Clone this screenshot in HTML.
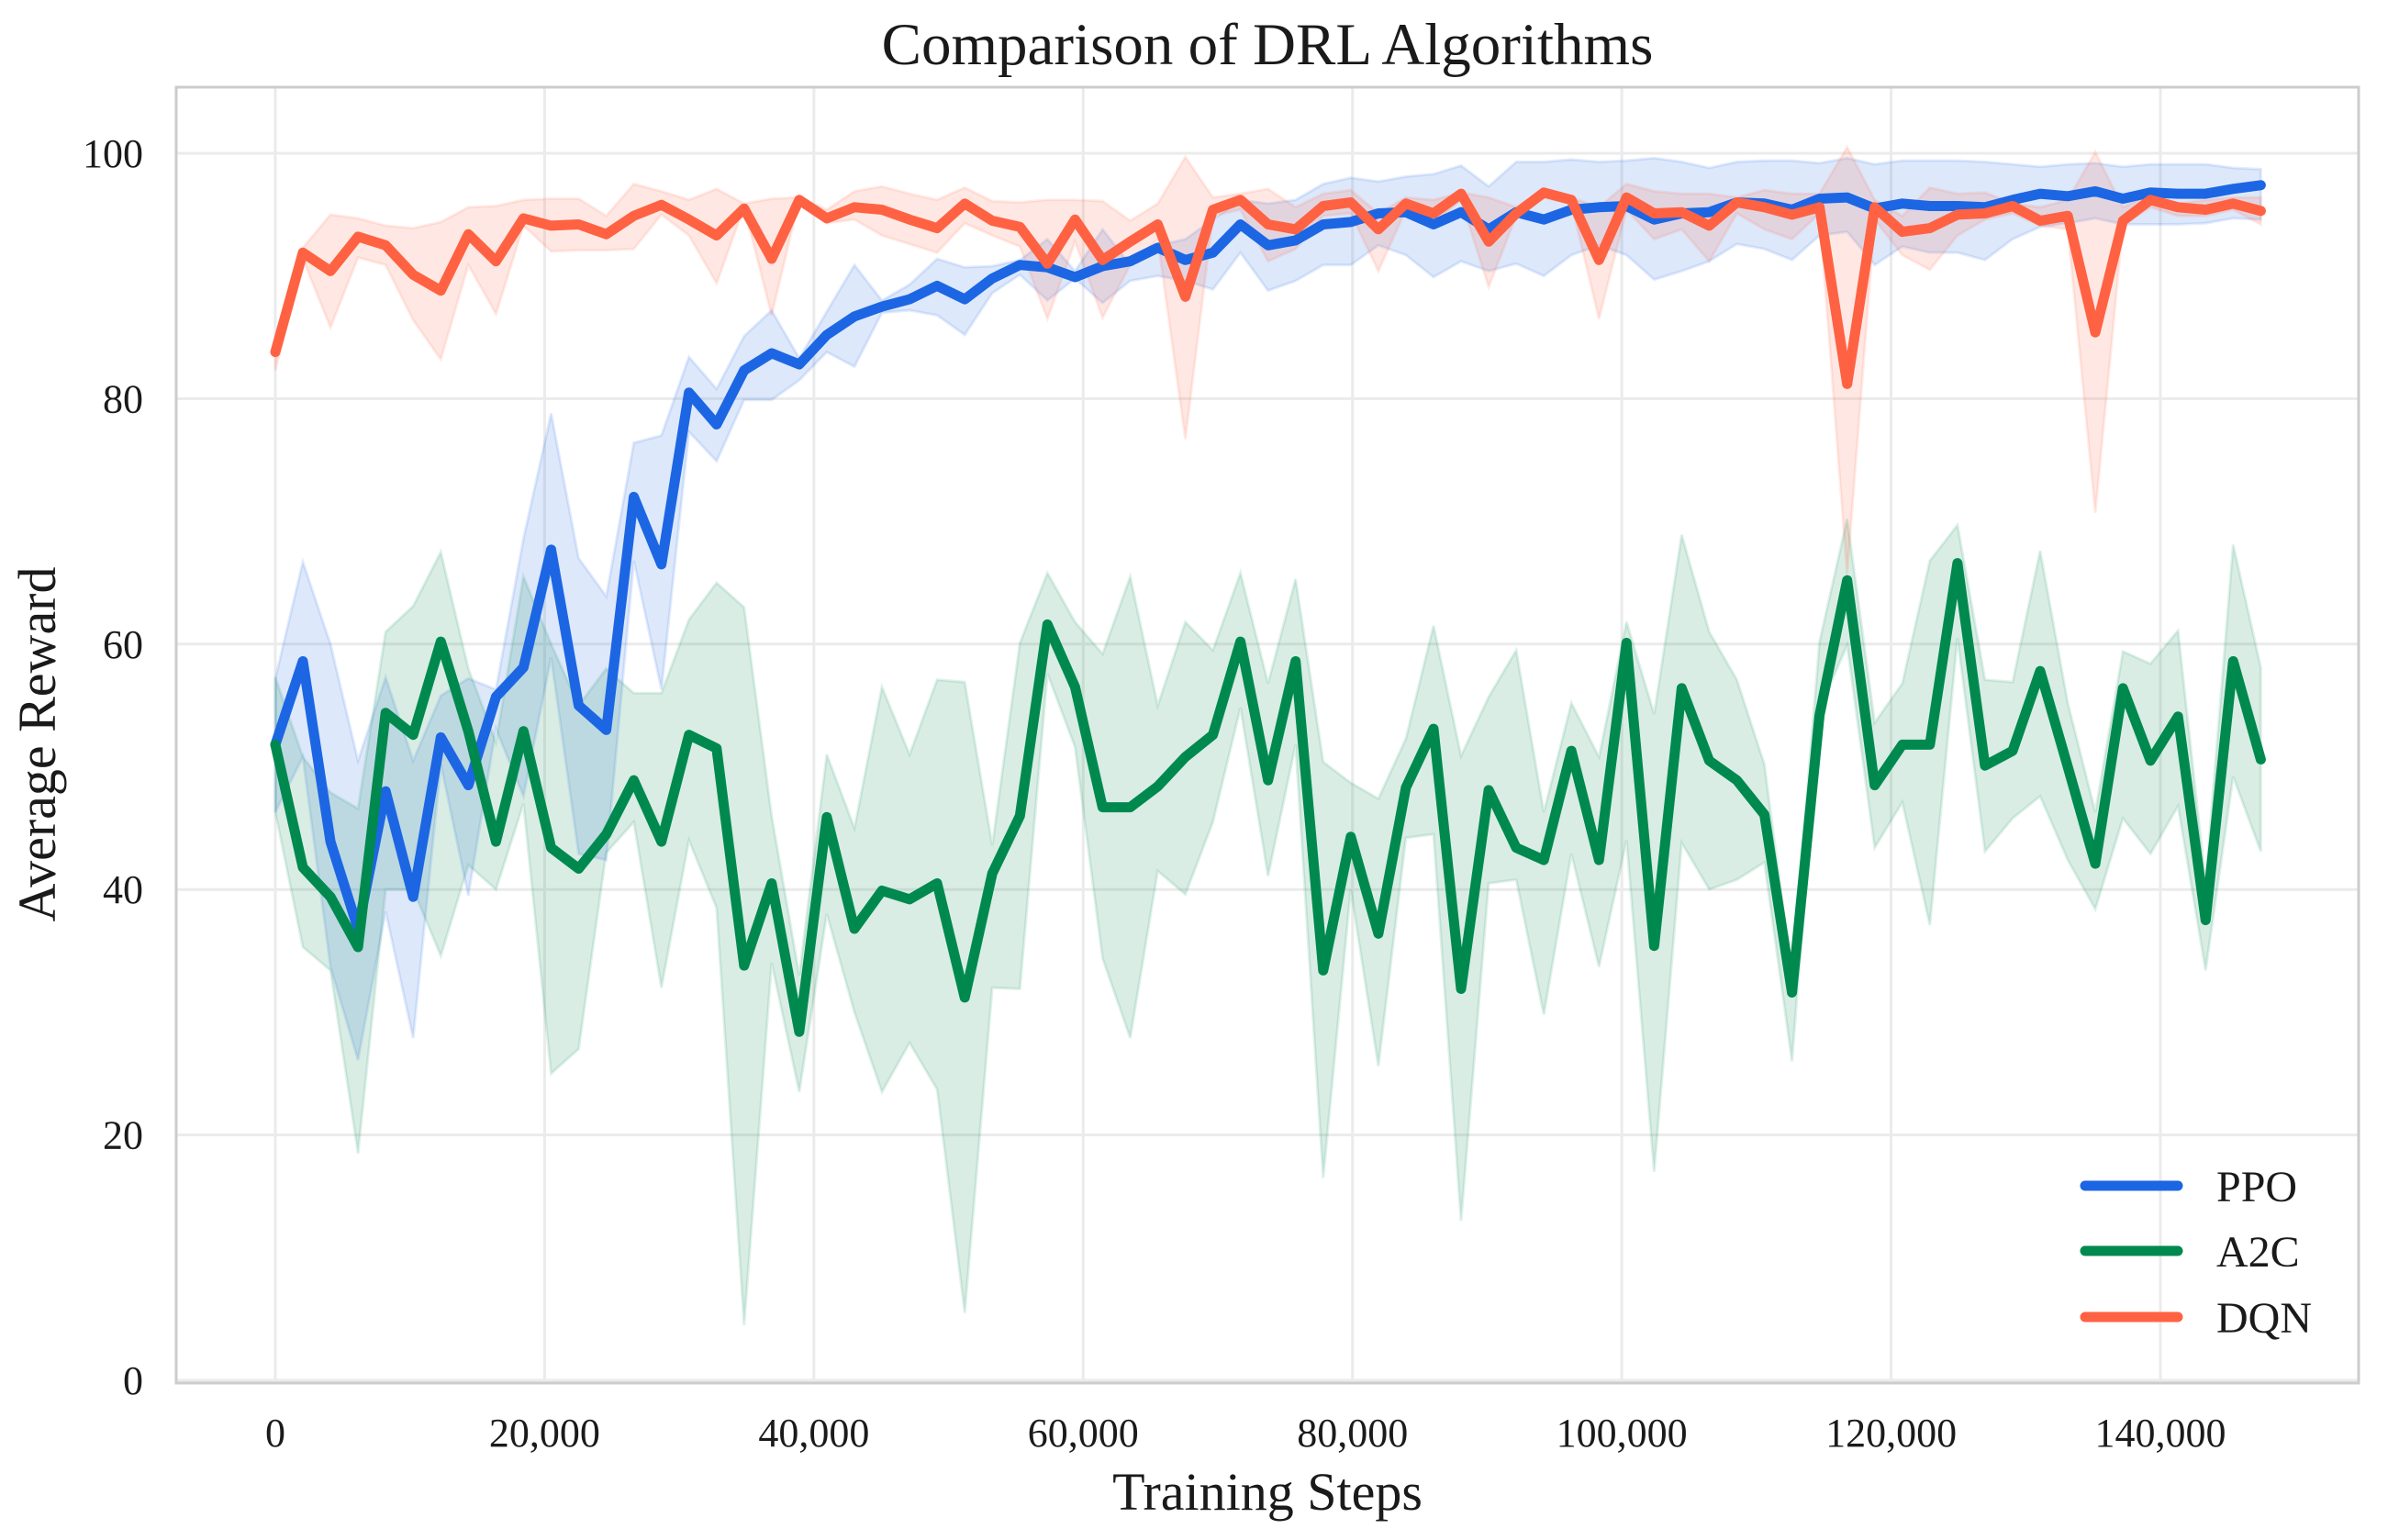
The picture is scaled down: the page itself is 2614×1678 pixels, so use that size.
<!DOCTYPE html>
<html><head><meta charset="utf-8"><title>Comparison of DRL Algorithms</title>
<style>
html,body{margin:0;padding:0;background:#fff;}
svg{display:block;font-family:"Liberation Serif","DejaVu Serif",serif;}
</style></head>
<body>
<svg id="chart" width="2614" height="1678" viewBox="0 0 2614 1678" xmlns="http://www.w3.org/2000/svg">
  <rect x="0" y="0" width="2614" height="1678" fill="#ffffff"/>
  <g id="grid"></g>
  <g id="bands"></g>
  <g id="lines"></g>
  <rect x="192" y="95" width="2378" height="1412" fill="none" stroke="#cccccc" stroke-width="3"/>
  <g id="yticks"></g>
  <g id="xticks"></g>
  <text x="1381" y="70" font-size="65" text-anchor="middle" fill="#1a1a1a">Comparison of DRL Algorithms</text>
  <text x="1381" y="1645" font-size="58" text-anchor="middle" fill="#1a1a1a">Training Steps</text>
  <text x="0" y="0" font-size="58" text-anchor="middle" fill="#1a1a1a" transform="translate(60,811) rotate(-90)">Average Reward</text>
  <g id="legend"></g>
</svg>
<script>
const steps = [];
const stepSize = 2048;
const nPoints = 73;
const xTicks = [0,20000,40000,60000,80000,100000,120000,140000];
const xTickLabels = ["0","20,000","40,000","60,000","80,000","100,000","120,000","140,000"];
const yTicks = [0,20,40,60,80,100];
const yTickLabels = ["0","20","40","60","80","100"];
const seriesNames = ["PPO","A2C","DQN"];

const ppoMean = [51.8,58.6,43.9,36.8,48,39.4,52.4,48.5,55.7,58.1,67.7,55,53,72,66.5,80.5,77.9,82.3,83.7,82.8,85.2,86.7,87.5,88.1,89.2,
 88.1,89.8,90.9,90.7,89.9,90.8,91.2,92.3,91.3,91.9,94.2,92.5,92.9,94.2,94.4,95.1,95.2,94.2,95.2,93.8,95.2,94.6,95.4,95.6,95.7,
 94.6,95.1,95.2,96,95.9,95.4,96.3,96.4,95.5,95.9,95.7,95.7,95.6,96.2,96.7,96.5,96.9,96.3,96.8,96.7,96.7,97.1,97.4];
const ppoUpper = [57.2,66.7,60,50.5,57.3,50.5,55.8,57.2,56.3,68.6,78.8,67,63.9,76.4,77,83.4,80.8,85.1,87.2,83.3,87.1,90.9,88,89.3,91.4,
 90.7,90.8,91.3,93,90.4,93.8,90.9,92.5,93,94.6,96.2,95.9,96.2,97.5,98,97.7,98.1,98.3,99,97.3,99.3,99.3,99.5,99.3,99.4,
 99.6,99.3,98.8,99.3,99.4,99.4,99.2,99.6,99.1,99.4,99.4,99.4,99.3,99.1,98.9,99.1,99.2,98.9,99.1,99.1,99.1,98.8,98.7];
const ppoLower = [46.3,50.8,33.7,26.1,38.2,27.9,50.2,39.5,53.1,47.6,58.9,42.9,42.4,66.8,56.3,77.3,74.9,79.9,79.9,81.5,83.8,82.6,87,87.2,86.8,
 85.2,88.6,90.1,88,89.8,87.8,89.6,90,89.6,88.9,91.9,88.8,89.6,90.9,90.9,92.5,91.7,89.9,91.2,90.4,91,90,91.7,92.5,91.7,
 89.7,90.4,91.2,92.6,92.2,91.3,93.3,93.6,90.9,92.4,91.9,91.9,91.3,93,94,94.3,94.7,94.2,94.2,94.2,94.3,94.7,94.6];

const a2cMean = [51.8,41.8,39.4,35.3,54.4,52.6,60.2,52.9,43.9,52.9,43.4,41.7,44.5,48.9,43.9,52.6,51.5,33.8,40.5,28.4,45.9,36.8,39.9,39.2,40.5,
 31.2,41.3,46,61.6,56.5,46.7,46.7,48.4,50.8,52.6,60.2,48.9,58.6,33.4,44.3,36.4,48.3,53.1,31.9,48.1,43.4,42.4,51.3,42.4,60.1,
 35.4,56.4,50.5,48.9,46.1,31.6,54.2,65.2,48.5,51.8,51.8,66.6,50.1,51.3,57.8,50,42.1,56.4,50.5,54.1,37.5,58.6,50.6];
const a2cUpper = [57.3,50.8,47.9,46.6,61,63.1,67.5,58,52,65.5,60,55,58,56,56,62,65,63,46,33,51,45,56.5,51,57.1,
 56.9,43.6,60.1,65.8,61.8,59.2,65.5,55,61.8,59.5,65.8,56.8,65.3,50.4,48.7,47.4,52.3,61.5,50.9,55.7,59.5,46.3,55.2,50.8,61.8,
 54.3,68.9,61,57.1,50.2,33,60.2,70.2,53.6,56.8,66.8,69.7,57.1,56.9,67.6,55.2,46.3,59.4,58.4,61.1,40.5,68.1,58.1];
const a2cLower = [46.3,35.3,33.4,18.5,40,40,34.6,42,40,47,25,27,43,45.5,32,44,38.5,4.5,34,23.5,38,30,23.5,27.5,23.7,
 5.5,32,31.9,57.6,51.6,34.4,27.9,41.5,39.6,45.5,54.8,41.1,51.8,16.5,40,25.6,44.2,44.5,13,40.5,40.8,29.8,42.9,33.7,44,
 17,43.8,40,40.8,42.2,26,54.7,59.9,43.4,47.1,37.1,60.5,43.1,45.8,47.6,42.4,38.4,45.8,42.9,46.8,33.4,49.2,43.1];

const dqnMean = [83.8,91.9,90.4,93.2,92.5,90.1,88.8,93.4,91.2,94.7,94.1,94.2,93.4,94.9,95.8,94.6,93.3,95.5,91.4,96.2,94.7,95.6,95.4,94.6,93.9,
 95.9,94.5,94,91,94.6,91.3,92.8,94.2,88.3,95.4,96.2,94.2,93.8,95.7,96,93.8,95.9,95.1,96.7,92.8,95.1,96.8,96.2,91.3,96.4,
 95.1,95.2,94.1,96,95.6,95,95.6,81.2,95.6,93.6,93.9,95,95.1,95.7,94.5,94.9,85.4,94.5,96.2,95.6,95.4,95.9,95.3];
const dqnUpper = [85,92.3,95,94.7,94.1,93.9,94.4,95.6,95.7,96.2,96.3,96.3,94.9,97.5,96.9,96.2,97.1,95.9,96.3,96.4,95.4,96.9,97.3,96.7,96.2,
 97.2,96.1,96,96.2,96.2,96.1,94.5,95.9,99.7,96.4,96.7,97.1,95.6,96.7,97,95.1,96.4,96.2,96.8,96.4,95.6,97,96.4,95.6,97.5,
 96.9,96.7,96.7,96.4,97,96.7,96.7,100.5,96.2,94.9,97.2,96.7,96.8,95.9,95.6,96.2,100.1,95.6,96.7,95.9,96.2,96.4,96.4];
const dqnLower = [82.3,91.4,85.8,91.5,90.9,86.4,83.2,90.9,86.9,94.1,92,92.1,92.1,92.2,95,93.3,89.4,95.6,86.8,96.2,94.3,94.6,93.3,92.6,91.9,
 94.3,93.3,92.4,86.5,92.8,86.6,90.9,93,76.7,94.9,95.4,91.2,92.2,94.9,95.1,90.4,95.4,94.3,96.2,89.1,94.9,96.4,95.9,86.5,95.4,
 93,93.8,91.2,95.1,93.8,93,95.1,65.7,94.6,91.7,90.5,93.3,94.6,95.1,94.1,93.8,70.7,94.1,95.6,94.9,94.9,95.4,94.2];

for (let i = 0; i < nPoints; i++) steps.push(i * stepSize);

const NS = "http://www.w3.org/2000/svg";
const PL = 192, PR = 2570, PT = 95, PB = 1507;
function xs(v){ return 300 + v * (2054 / 140000); }
function ys(v){ return 1504 - v * 13.37; }
function mk(tag, attrs, parent){
  const e = document.createElementNS(NS, tag);
  for (const k in attrs) e.setAttribute(k, attrs[k]);
  parent.appendChild(e);
  return e;
}
const grid = document.getElementById('grid');
xTicks.forEach((t, i) => {
  const l = mk('line', {x1: xs(t), x2: xs(t), y1: PT, y2: PB, stroke: '#ebebeb', 'stroke-width': 3}, grid);
  
  
  const tx = mk('text', {x: xs(t), y: 1576, 'font-size': 44, 'text-anchor': 'middle', fill: '#1a1a1a'}, document.getElementById('xticks'));
  tx.textContent = xTickLabels[i];
  
  
});
yTicks.forEach((t, i) => {
  const l = mk('line', {x1: PL, x2: PR, y1: ys(t), y2: ys(t), stroke: '#ebebeb', 'stroke-width': 3}, grid);
  
  
  const tx = mk('text', {x: 156, y: ys(t) + 15, 'font-size': 44, 'text-anchor': 'end', fill: '#1a1a1a'}, document.getElementById('yticks'));
  tx.textContent = yTickLabels[i];
  
  
});

const colors = ['#1c66e4', '#00894f', '#ff6242'];
const means = [ppoMean, a2cMean, dqnMean];
const uppers = [ppoUpper, a2cUpper, dqnUpper];
const lowers = [ppoLower, a2cLower, dqnLower];
const bandsG = document.getElementById('bands');
const linesG = document.getElementById('lines');
for (let s = 0; s < 3; s++) {
  let d = '';
  for (let i = 0; i < nPoints; i++) d += (i ? 'L' : 'M') + xs(steps[i]).toFixed(1) + ',' + ys(uppers[s][i]).toFixed(1);
  for (let i = nPoints - 1; i >= 0; i--) d += 'L' + xs(steps[i]).toFixed(1) + ',' + ys(lowers[s][i]).toFixed(1);
  d += 'Z';
  const p = mk('path', {d: d, fill: colors[s], 'fill-opacity': 0.15, stroke: colors[s], 'stroke-opacity': 0.12, 'stroke-width': 3}, bandsG);
  
  
}
for (let s = 0; s < 3; s++) {
  const pts = steps.map((st, i) => xs(st).toFixed(1) + ',' + ys(means[s][i]).toFixed(1)).join(' ');
  const pl = mk('polyline', {points: pts, fill: 'none', stroke: colors[s], 'stroke-width': 11, 'stroke-linejoin': 'round', 'stroke-linecap': 'round'}, linesG);
  
  
}
const leg = document.getElementById('legend');
const legY = [1292, 1363, 1435];
for (let s = 0; s < 3; s++) {
  const l = mk('line', {x1: 2272, x2: 2373, y1: legY[s], y2: legY[s], stroke: colors[s], 'stroke-width': 11, 'stroke-linecap': 'round'}, leg);
  
  
  const t = mk('text', {x: 2415, y: legY[s] + 17, 'font-size': 48, fill: '#1a1a1a'}, leg);
  t.textContent = seriesNames[s];
  
  
}
</script>
</body></html>
